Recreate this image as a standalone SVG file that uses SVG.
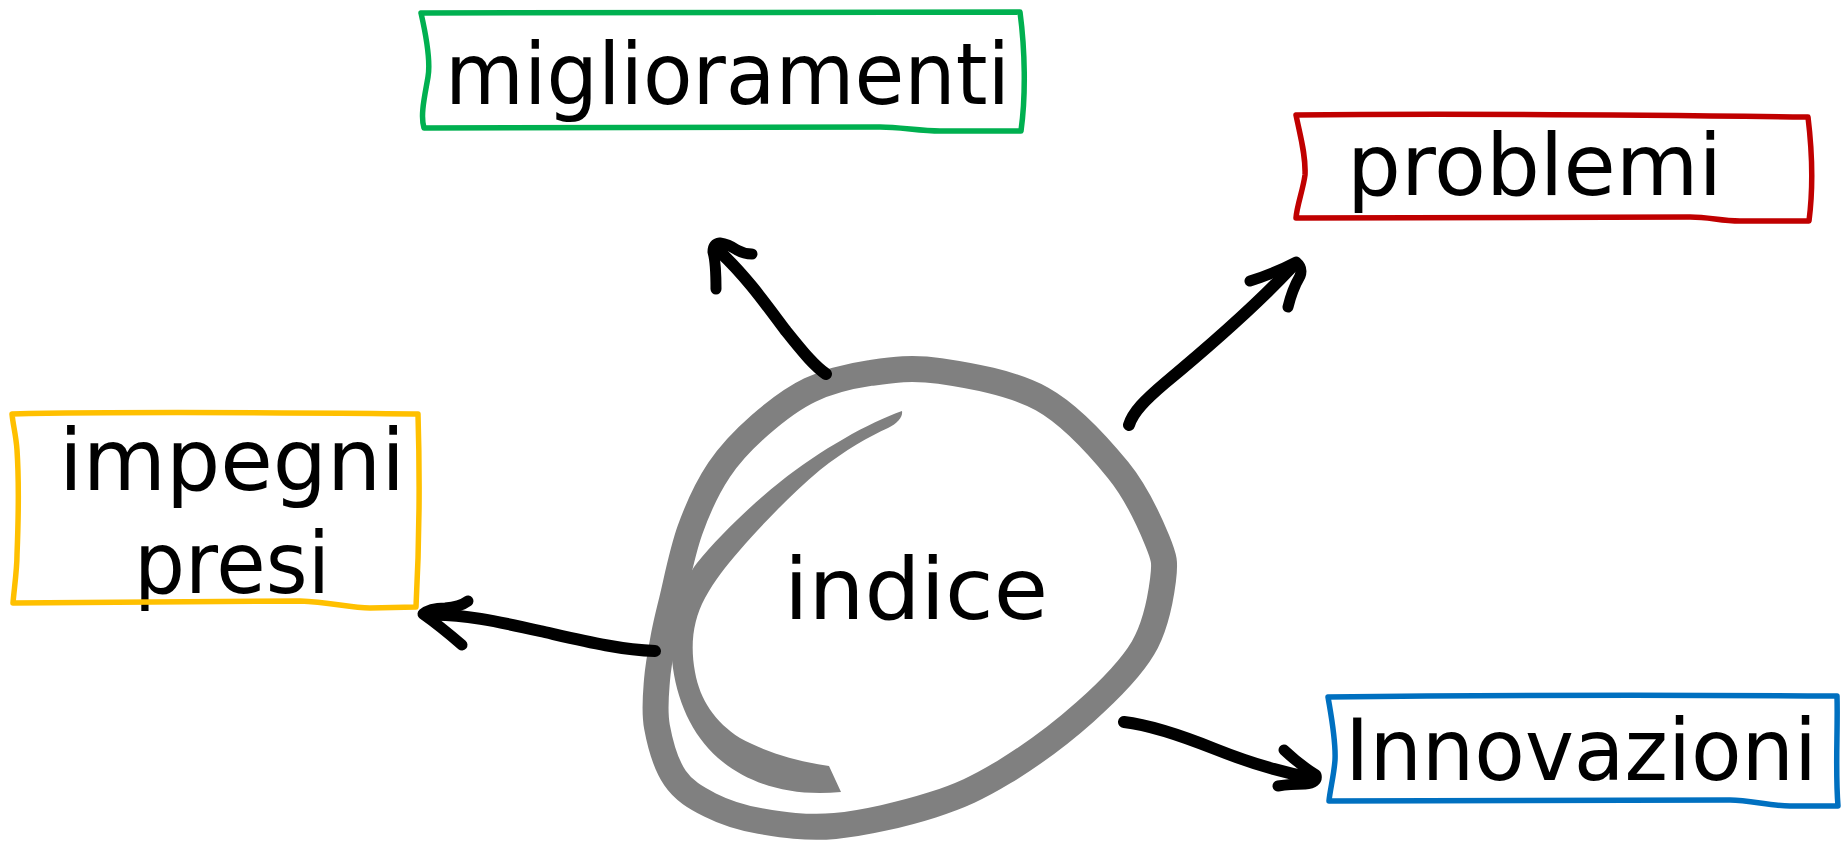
<svg xmlns="http://www.w3.org/2000/svg" width="1841" height="841" viewBox="0 0 1841 841">
  <style>
    .label { font-family: "DejaVu Sans", "Liberation Sans", sans-serif; font-size: 85px; fill: #000; }
    .frame { fill: none; stroke-width: 5.5; stroke-linejoin: round; stroke-linecap: round; }
    .arrow { fill: none; stroke: #000; stroke-width: 12; stroke-linecap: round; stroke-linejoin: round; }
    .head { fill: none; stroke: #000; stroke-width: 11; stroke-linecap: round; stroke-linejoin: round; }
    .loop { fill: none; stroke: #808080; stroke-width: 26; stroke-linejoin: round; }
  </style>
  <rect width="1841" height="841" fill="#fff"/>

  <!-- central hand-drawn ring -->
  <g id="node-indice">
    <path class="loop" d="M 672,600 C 676.3,582.5 682.2,551.7 690,530 C 697.8,508.3 707.3,487.5 719,470 C 730.7,452.5 744.8,438.3 760,425 C 775.2,411.7 791.7,398.7 810,390 C 828.3,381.3 848.3,376.2 870,373 C 891.7,369.8 911.3,366.7 940,371 C 968.7,375.3 1012.3,382.5 1042,399 C 1071.7,415.5 1098.8,446.5 1118,470 C 1137.2,493.5 1149.5,521.7 1157,540 C 1164.5,558.3 1165.3,562 1163,580 C 1160.7,598 1156,626 1143,648 C 1130,670 1108.2,691.3 1085,712 C 1061.8,732.7 1029.5,756.5 1004,772 C 978.5,787.5 960.2,796 932,805 C 903.8,814 863.7,823.3 835,826 C 806.3,828.7 780.8,824.5 760,821 C 739.2,817.5 724.2,812.2 710,805 C 695.8,797.8 683.8,791 675,778 C 666.2,765 660,743.3 657,727 C 654,710.7 655.8,695.3 657,680 C 658.2,664.7 661.5,648.3 664,635 C 666.5,621.7 667.7,617.5 672,600 Z"/>
    <path fill="#808080" d="M 902,411 C 870,422 820,450 780,482 C 750,506 720,535 697,563 C 678,588 668,625 672,660 C 676,700 692,735 718,758 C 748,784 790,797 841,792 L 829,766 C 800,762 765,752 740,738 C 715,722 700,700 695,672 C 690,645 693,620 705,598 C 715,580 725,567 740,550 C 760,527 790,495 820,470 C 845,450 870,436 888,428 C 898,423 903,417 902,411 Z"/>
    <text class="label" x="784" y="619" textLength="264" lengthAdjust="spacingAndGlyphs">indice</text>
  </g>

  <g id="node-miglioramenti">
    <text class="label" x="445" y="104" textLength="565" lengthAdjust="spacingAndGlyphs">miglioramenti</text>
    <path class="frame" stroke="#00b050" d="M 421,13 C 600,11 800,12 1020,12 C 1025,50 1026,95 1021,131 L 940,131 C 920,131 900,127 880,127 L 424,128 C 420,115 425,95 428,77 C 431,60 426,35 421,13 Z"/>
  </g>

  <g id="node-problemi">
    <text class="label" x="1347" y="195" textLength="375" lengthAdjust="spacingAndGlyphs">problemi</text>
    <path class="frame" stroke="#c00000" d="M 1296,115 C 1450,113 1650,115 1808,117 C 1812,150 1813,190 1809,221 L 1740,221 C 1720,221 1710,217 1690,217 L 1296,218 C 1297,205 1303,190 1305,175 C 1306,155 1300,135 1296,115 Z"/>
  </g>

  <g id="node-impegni-presi">
    <text class="label" x="59" y="490" textLength="346" lengthAdjust="spacingAndGlyphs">impegni</text>
    <text class="label" x="134" y="593" textLength="196" lengthAdjust="spacingAndGlyphs">presi</text>
    <path class="frame" stroke="#ffc000" d="M 12,414 C 150,411 300,413 418,414 C 420,480 419,550 416,607 L 370,608 C 350,608 330,602 300,601 L 13,603 C 14,590 17,570 17,555 C 18,530 19,480 17,450 C 16,435 13,425 12,414 Z"/>
  </g>

  <g id="node-innovazioni">
    <text class="label" x="1345" y="780" textLength="472" lengthAdjust="spacingAndGlyphs">Innovazioni</text>
    <path class="frame" stroke="#0070c0" d="M 1328,697 C 1500,695 1700,695 1837,696 C 1838,730 1835,770 1838,806 L 1790,806 C 1770,806 1750,800 1730,800 L 1329,801 C 1330,790 1334,775 1335,760 C 1336,740 1331,715 1328,697 Z"/>
  </g>

  <!-- connectors -->
  <g id="connectors">
    <g id="to-miglioramenti">
      <path class="arrow" d="M 826,374 C 812,364 800,348 786,331 C 770,310 748,278 720,252"/>
      <path class="head" d="M 716,289 C 716,275 716,262 713,252 Q 713,244 720,243 Q 728,244 737,250 Q 744,254 752,254"/>
    </g>
    <g id="to-problemi">
      <path class="arrow" d="M 1129,425 C 1133,412 1145,400 1165,383 C 1200,354 1250,312 1294,265"/>
      <path class="head" d="M 1250,281 Q 1275,273 1296,262 Q 1303,268 1300,276 Q 1292,290 1288,307"/>
    </g>
    <g id="to-impegni-presi">
      <path class="arrow" d="M 655,651 C 620,650 580,640 540,631 C 500,622 460,613 426,615"/>
      <path class="head" d="M 468,601 Q 460,607 445,608 Q 430,608 423,614 Q 440,626 462,645"/>
    </g>
    <g id="to-innovazioni">
      <path class="arrow" d="M 1124,722 C 1150,725 1180,735 1215,749 C 1250,763 1285,773 1313,778"/>
      <path class="head" d="M 1284,750 Q 1300,765 1316,775 Q 1318,783 1305,784 Q 1290,784 1278,786"/>
    </g>
  </g>
</svg>
